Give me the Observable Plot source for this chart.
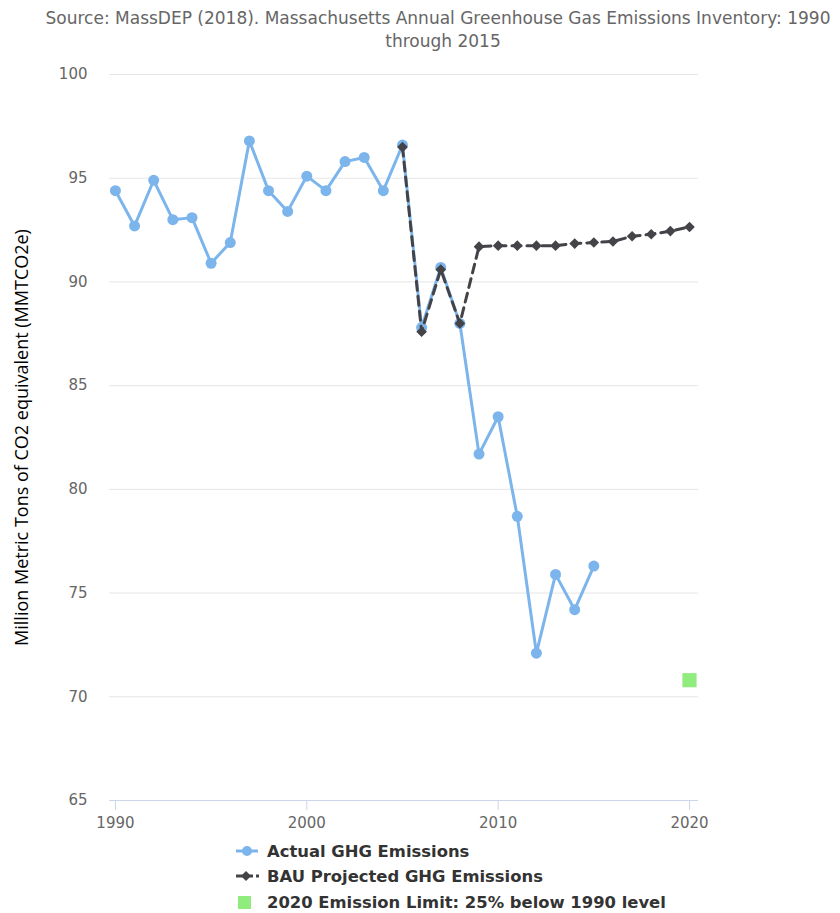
<!DOCTYPE html>
<html><head><meta charset="utf-8">
<script src="https://cdn.jsdelivr.net/npm/d3@7"></script>
<script src="https://cdn.jsdelivr.net/npm/@observablehq/plot@0.6"></script>
<style>
body{margin:0;background:#fff;font-family:"DejaVu Sans",sans-serif;}
#wrap{width:840px;height:913px;position:relative;overflow:hidden;background:#fff}
#title{position:relative;height:52px;color:#666;font-size:17px;}
#title span{position:absolute;left:438px;transform:translate(-50%,-50%);white-space:nowrap;}
#legend{position:relative;height:83px;}
.item{position:absolute;left:236px;height:24px;display:flex;align-items:center;transform:translateY(-50%);font-weight:700;font-size:16.4px;color:#333;white-space:nowrap}
.item svg{width:24px;height:16px;margin-right:7px;display:block}
</style></head>
<body><div id="wrap">
<div id="title"><span style="top:18px">Source: MassDEP (2018). Massachusetts Annual Greenhouse Gas Emissions Inventory: 1990</span><span style="top:41px;left:443px">through 2015</span></div>
<div id="chart"></div>
<div id="legend"></div>
</div>
<script>
const years = [1990,1991,1992,1993,1994,1995,1996,1997,1998,1999,2000,2001,2002,2003,2004,2005,2006,2007,2008,2009,2010,2011,2012,2013,2014,2015];
const actual = [94.4,92.7,94.9,93.0,93.1,90.9,91.9,96.8,94.4,93.4,95.1,94.4,95.8,96.0,94.4,96.6,87.8,90.7,88.0,81.7,83.5,78.7,72.1,75.9,74.2,76.3];
const bauYears = [2005,2006,2007,2008,2009,2010,2011,2012,2013,2014,2015,2016,2017,2018,2019,2020];
const bau = [96.5,87.6,90.6,88.0,91.7,91.75,91.75,91.75,91.75,91.85,91.9,91.95,92.2,92.3,92.45,92.65];
const limitYears = [2020];
const limitValues = [70.8];
const xTicks = [1990,2000,2010,2020];
const yTicks = [65,70,75,80,85,90,95,100];
const seriesNames = ["Actual GHG Emissions","BAU Projected GHG Emissions","2020 Emission Limit: 25% below 1990 level"];
const yTitle = "Million Metric Tons of CO2 equivalent (MMTCO2e)";

const actualTable = years.map((y,i)=>({year:y,value:actual[i]}));
const bauTable = bauYears.map((y,i)=>({year:y,value:bau[i]}));
const limitTable = limitYears.map((y,i)=>({year:y,value:limitValues[i]}));

const chart = Plot.plot({
  width:840, height:778, marginTop:22, marginBottom:30, marginLeft:109, marginRight:142,
  x:{domain:[1989.69,2020.47]},
  y:{domain:[65,100]},
  style:{fontFamily:"DejaVu Sans, sans-serif", fontSize:"15px", color:"#666", background:"white", overflow:"visible"},
  marks:[
    Plot.gridY(yTicks.filter(d=>d>65), {stroke:"#e6e6e6", strokeOpacity:1}),
    Plot.axisY(yTicks, {tickSize:0, tickPadding:22, label:null}),
    Plot.text([yTitle], {frameAnchor:"left", textAnchor:"middle", dx:-87, rotate:-90, fill:"black", fontSize:18, fontFamily:"Open Sans, sans-serif"}),
    Plot.axisX(xTicks, {tickSize:10, tickPadding:7, stroke:"#ccd6eb", strokeOpacity:1, tickFormat:d=>String(d), label:null}),
    Plot.ruleY([65], {stroke:"#ccd6eb"}),
    Plot.line(actualTable, {x:"year", y:"value", stroke:"#7cb5ec", strokeWidth:3}),
    Plot.dot(actualTable, {x:"year", y:"value", fill:"#7cb5ec", r:5.5}),
    Plot.line(bauTable, {x:"year", y:"value", stroke:"#434348", strokeWidth:3, strokeDasharray:"9,6"}),
    Plot.dot(bauTable, {x:"year", y:"value", symbol:"diamond2", r:4.8, fill:"#434348"}),
    Plot.dot(limitTable, {x:"year", y:"value", symbol:"square", r:8, fill:"#90ed7d"})
  ]
});
document.getElementById("chart").appendChild(chart);

const legend = document.getElementById("legend");
const icons = [
  '<svg viewBox="0 0 24 16"><line x1="0" y1="8" x2="22" y2="8" stroke="#7cb5ec" stroke-width="3"/><circle cx="11" cy="8" r="5" fill="#7cb5ec"/></svg>',
  '<svg viewBox="0 0 24 16"><line x1="0" y1="8" x2="17" y2="8" stroke="#434348" stroke-width="3"/><line x1="20" y1="8" x2="23" y2="8" stroke="#434348" stroke-width="3"/><path d="M10,3 L15,8 L10,13 L5,8 Z" fill="#434348"/></svg>',
  '<svg viewBox="0 0 24 16"><rect x="2" y="2" width="13" height="13" fill="#90ed7d"/></svg>'
];
const tops = [21,46,72];
seriesNames.forEach((n,i)=>{
  const d = document.createElement("div");
  d.className="item"; d.style.top = tops[i]+"px";
  d.innerHTML = icons[i] + '<span>'+n+'</span>';
  legend.appendChild(d);
});
</script>
</body></html>
